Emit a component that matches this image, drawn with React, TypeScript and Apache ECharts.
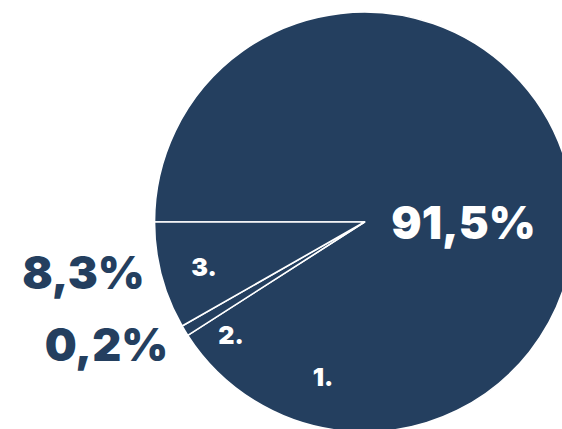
import React, { useEffect, useRef } from "react";
import * as echarts from "echarts";

// Data
const CATEGORIES = ["1.", "2.", "3."];
const VALUES = [91.5, 0.2, 8.3];
const PERCENT_LABELS = ["91,5%", "0,2%", "8,3%"];

// Layout / style (kept apart from data)
const CENTER: [number, number] = [364.5, 222];
const RADIUS = 210;
const NUM_OFFSETS = [
  [-41.5, 155],
  [-133.5, 113],
  [-160.5, 44.5],
];
const PCT_OFFSETS = [
  [99, 0],
  [-258, 122],
  [-281, 50],
];
const DARK = "#243F5F";
const PCT_COLORS = ["#ffffff", DARK, DARK];
const FONT = "Inter";

export default function App() {
  const ref = useRef<HTMLDivElement>(null);
  useEffect(() => {
    if (!ref.current) return;
    const chart = echarts.init(ref.current, undefined, { renderer: "svg" });
    const baseData = VALUES.map((v, i) => ({ value: v, name: CATEGORIES[i] }));
    chart.setOption({
      animation: false,
      backgroundColor: "#ffffff",
      series: [
        {
          type: "pie",
          center: CENTER,
          radius: RADIUS,
          startAngle: 180,
          clockwise: true,
          minAngle: 3,
          avoidLabelOverlap: false,
          silent: true,
          itemStyle: { color: DARK, borderColor: "#ffffff", borderWidth: 1.6 },
          label: {
            show: true,
            position: "inside",
            formatter: (p: any) => p.name,
            color: "#ffffff",
            fontFamily: FONT,
            fontWeight: 900,
            fontSize: 25,
          },
          labelLine: { show: false },
          labelLayout: (p: any) => {
            const o = NUM_OFFSETS[p.dataIndex];
            return {
              x: CENTER[0] + o[0],
              y: CENTER[1] + o[1],
              align: "center",
              verticalAlign: "middle",
            };
          },
          data: baseData,
        },
        {
          type: "pie",
          center: CENTER,
          radius: RADIUS,
          startAngle: 180,
          clockwise: true,
          minAngle: 3,
          avoidLabelOverlap: false,
          silent: true,
          itemStyle: { color: "rgba(0,0,0,0)", borderWidth: 0 },
          label: {
            show: true,
            position: "inside",
            fontFamily: FONT,
            fontWeight: 900,
            fontSize: 45,
          },
          labelLine: { show: false },
          labelLayout: (p: any) => {
            const o = PCT_OFFSETS[p.dataIndex];
            return {
              x: CENTER[0] + o[0],
              y: CENTER[1] + o[1],
              align: "center",
              verticalAlign: "middle",
            };
          },
          data: VALUES.map((v, i) => ({
            value: v,
            name: CATEGORIES[i],
            label: { formatter: PERCENT_LABELS[i], color: PCT_COLORS[i] },
          })),
        },
      ],
    });
    return () => chart.dispose();
  }, []);
  return (
    <div
      ref={ref}
      style={{ position: "fixed", left: 0, top: 0, width: 562, height: 429 }}
    />
  );
}
